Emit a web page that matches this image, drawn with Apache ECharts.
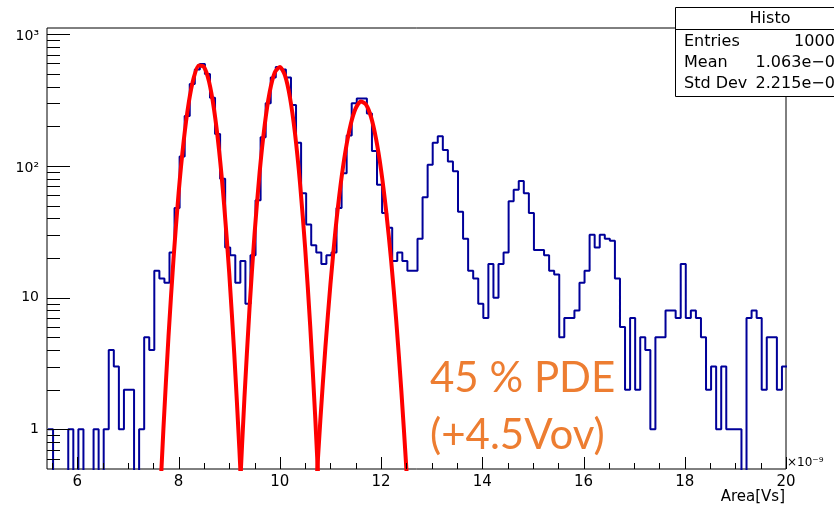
<!DOCTYPE html>
<html><head><meta charset="utf-8">
<script src="https://cdn.jsdelivr.net/npm/echarts@6/dist/echarts.min.js"></script>
<style>html,body{margin:0;padding:0;background:#fff}#c{width:834px;height:509px}</style>
</head><body><div id="c"></div>
<script>
// ---- histogram (bin left edges start at binStart, width binWidth) ----
const binStart = 5.42;
const binWidth = 0.1;
const counts = [
  1,0,0,0,1,0,1,0,0,1,
  0,1,4,3,1,2,2,0,1,5,
  4,16,14,13,22,48,118,240,420,540,
  595,500,330,175,80,24,21,13,19,9,
  21,55,165,300,470,565,540,470,290,150,
  62,36,25,22,18,21,22,48,88,170,
  299,326,326,250,130,72,44,34,19,22,
  19,16,16,28,58,102,150,168,132,108,
  91,45,28,16,14,9,7,18,10,18,
  22,54,66,77,62,44,23,23,21,16,
  15,5,7,7,8,13,16,30,24,30,
  28,27,14,6,2,7,2,5,4,1,
  5,5,8,8,7,18,7,8,7,5,
  2,3,1,3,1,1,1,0,7,8,
  7,2,5,5,2,3
];
// ---- fitted curves, points ----
const fit1X = [7.6,7.7,7.8,7.9,8.0,8.1,8.2,8.3,8.4,8.5,8.6,8.7,8.8,8.9,9.0,9.1,9.2,9.3];
const fit1Y = [0.161,1.01,5.05,19.9,62.2,154,302,470,580,566,439,269,131,50.5,15.4,3.72,0.715,0.109];
const fit2X = [9.2,9.3,9.4,9.5,9.6,9.7,9.8,9.9,10.0,10.1,10.2,10.3,10.4,10.5,10.6,10.7,10.8];
const fit2Y = [0.284,1.72,8.17,30.4,88.9,203,365,513,565,489,331,176,73.1,23.9,6.1,1.22,0.192];
const fit3X = [10.7,10.8,10.9,11.0,11.1,11.2,11.3,11.4,11.5,11.6,11.7,11.8,11.9,12.0,12.1,12.2,12.3,12.4,12.5,12.6];
const fit3Y = [0.275,1.17,4.19,12.7,32.8,71.6,132,207,275,309,294,237,161,93.3,45.7,19,6.67,1.98,0.5,0.107];
// ---- axes ----
const xMin = 5.4, xMax = 20, yMin = 0.5, yMax = 1116;
const xMajorTicks = [6,8,10,12,14,16,18,20];
const xTickLabels = ['6','8','10','12','14','16','18','20'];
const xMinorTicks = [5.5,6.5,7,7.5,8.5,9,9.5,10.5,11,11.5,12.5,13,13.5,14.5,15,15.5,16.5,17,17.5,18.5,19,19.5];
const yMajorTicks = [1,10,100,1000];
const yTickLabels = ['1','10','10\u00b2','10\u00b3'];
const yMinorTicks = [0.6,0.7,0.8,0.9,2,3,4,5,6,7,8,9,20,30,40,50,60,70,80,90,200,300,400,500,600,700,800,900];
// ---- stats box ----
const statsTitle = 'Histo';
const statsNames = ['Entries','Mean','Std Dev'];
const statsValues = ['10000','1.063e\u221208','2.215e\u221209'];

const floorVal = 0.05;
const histData = counts.map((c, i) => [+(binStart + i * binWidth).toFixed(2), c > 0 ? c : floorVal]);
histData.push([+(binStart + counts.length * binWidth).toFixed(2), counts[counts.length - 1] > 0 ? counts[counts.length - 1] : floorVal]);

function fitSeries(xs, ys) {
  return {type:'line', data: xs.map((x, i) => [x, ys[i]]), smooth: 0.25, symbol:'none', clip:true, z:4,
    lineStyle:{color:'#ff0000', width:4}, silent:true};
}
function vTicks(values, len) {
  return {type:'custom', clip:false, silent:true, z:6, data: values.map(v => [v, yMin]),
    renderItem: (params, api) => {
      const p = api.coord([api.value(0), yMin]);
      const x = Math.round(p[0]) + 0.5;
      return {type:'line', shape:{x1:x, y1:p[1], x2:x, y2:p[1] - len}, style:{stroke:'#000', lineWidth:1}};
    }};
}
function hTicks(values, len) {
  return {type:'custom', clip:false, silent:true, z:6, data: values.map(v => [xMin, v]),
    renderItem: (params, api) => {
      const p = api.coord([xMin, api.value(1)]);
      const y = Math.round(p[1]) + 0.5;
      return {type:'line', shape:{x1:p[0], y1:y, x2:p[0] + len, y2:y}, style:{stroke:'#000', lineWidth:1}};
    }};
}
const xLabelSeries = {type:'custom', clip:false, silent:true, z:6, data: xMajorTicks.map(v => [v, yMin]),
  renderItem: (params, api) => {
    const p = api.coord([api.value(0), yMin]);
    return {type:'text', x: p[0], y: p[1] + 13, style:{text: xTickLabels[params.dataIndex], font:'15px "DejaVu Sans"', fill:'#000',
      align:'center', verticalAlign:'middle', textAlign:'center', textVerticalAlign:'middle'}};
  }};
const yLabelSeries = {type:'custom', clip:false, silent:true, z:6, data: yMajorTicks.map(v => [xMin, v]),
  renderItem: (params, api) => {
    const p = api.coord([xMin, api.value(1)]);
    const sup = params.dataIndex >= 2 ? 2 : 0;
    return {type:'text', x: p[0] - 8, y: p[1] + sup, style:{text: yTickLabels[params.dataIndex], font:'14px "DejaVu Sans"', fill:'#000',
      align:'right', verticalAlign:'middle', textAlign:'right', textVerticalAlign:'middle'}};
  }};

const statsGraphic = [
  {type:'rect', z:100, shape:{x:675.5, y:7.5, width:220, height:89}, style:{fill:'#fff', stroke:'#000', lineWidth:1}},
  {type:'line', z:101, shape:{x1:675.5, y1:29.5, x2:900, y2:29.5}, style:{stroke:'#000', lineWidth:1}},
  {type:'text', z:101, x:770, y:19, style:{text: statsTitle, font:'16px "DejaVu Sans"', fill:'#000', align:'center', verticalAlign:'middle'}}
];
statsNames.forEach((n, i) => {
  statsGraphic.push({type:'text', z:101, x:684, y:42 + i * 21, style:{text:n, font:'16px "DejaVu Sans"', fill:'#000', align:'left', verticalAlign:'middle'}});
  statsGraphic.push({type:'text', z:101, x:845, y:42 + i * 21, style:{text:statsValues[i], font:'16px "DejaVu Sans"', fill:'#000', align:'right', verticalAlign:'middle'}});
});

const chart = echarts.init(document.getElementById('c'), null, {renderer:'canvas', width:834, height:509});
chart.setOption({
  animation:false,
  backgroundColor:'#fff',
  grid:{left:47, right:48, top:28, bottom:40, show:true, borderColor:'#000', borderWidth:1, backgroundColor:'transparent', containLabel:false, outerBoundsMode:'none'},
  xAxis:{type:'value', min:xMin, max:xMax, axisLine:{show:false}, axisTick:{show:false}, axisLabel:{show:false}, splitLine:{show:false}},
  yAxis:{type:'log', logBase:10, min:yMin, max:yMax, axisLine:{show:false}, axisTick:{show:false}, axisLabel:{show:false}, splitLine:{show:false}},
  series:[
    {type:'line', data: histData, step:'end', symbol:'none', clip:true, z:3, silent:true, lineStyle:{color:'#000099', width:2}},
    fitSeries(fit1X, fit1Y),
    fitSeries(fit2X, fit2Y),
    fitSeries(fit3X, fit3Y),
    vTicks(xMajorTicks, 12),
    vTicks(xMinorTicks, 6),
    hTicks(yMajorTicks, 23),
    hTicks(yMinorTicks, 13),
    xLabelSeries,
    yLabelSeries
  ],
  graphic: statsGraphic.concat([
    {type:'text', z:50, x:787, y:463, style:{text:'\u00d710\u207b\u2079', font:'12px "DejaVu Sans"', fill:'#000', align:'left', verticalAlign:'middle'}},
    {type:'text', z:50, x:785, y:497, style:{text:'Area[Vs]', font:'15px "DejaVu Sans"', fill:'#000', align:'right', verticalAlign:'middle'}},
    {type:'text', z:50, x:430, y:378, style:{text:'45 % PDE', font:'42px Lato', fill:'#ED7D31', align:'left', verticalAlign:'middle'}},
    {type:'text', z:50, x:430, y:435, style:{text:'(+4.5Vov)', font:'42px Lato', fill:'#ED7D31', align:'left', verticalAlign:'middle'}}
  ])
});
</script></body></html>
